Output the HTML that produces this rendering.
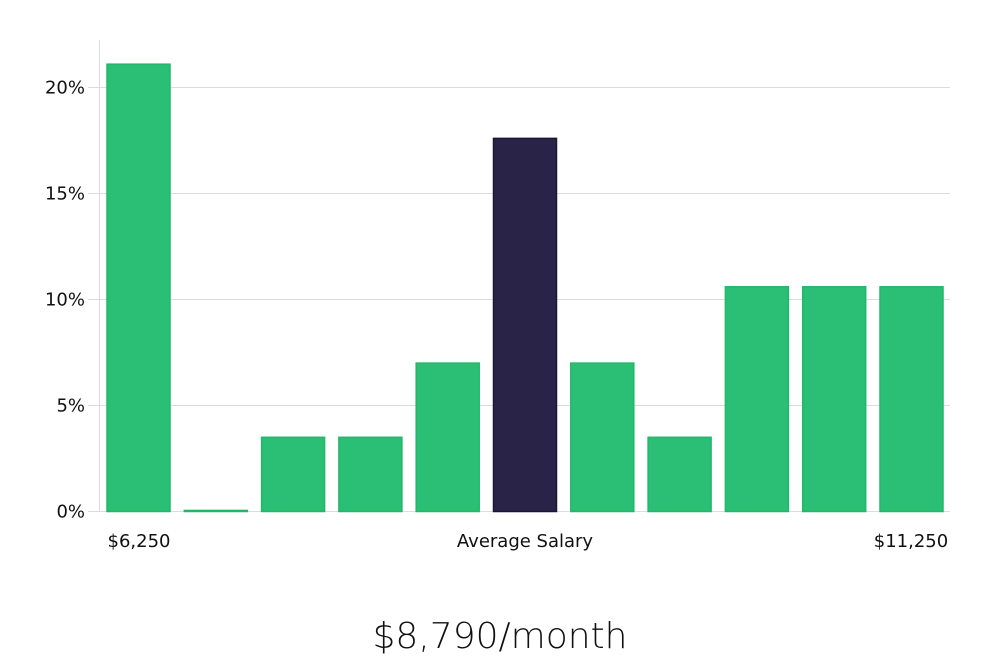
<!DOCTYPE html>
<html><head><meta charset="utf-8"><style>
body{margin:0;background:#fff;width:1000px;height:660px;overflow:hidden}
svg text{font-family:"DejaVu Sans","Liberation Sans",sans-serif}
</style></head><body>
<svg id="chart" width="1000" height="660" xmlns="http://www.w3.org/2000/svg">
<g id="grid"></g>
<line x1="99.5" y1="40" x2="99.5" y2="512" stroke="#dcdcdc"/>
<g id="bars"></g>
<g id="yt"></g>
<text x="139" y="547" font-size="18" text-anchor="middle" fill="#111">$6,250</text>
<text x="525" y="547" font-size="18" text-anchor="middle" fill="#111">Average Salary</text>
<text x="911" y="547" font-size="18" text-anchor="middle" fill="#111">$11,250</text>
<text x="500" y="648" font-size="36" text-anchor="middle" fill="#111" style="font-weight:300">$8,790/month</text>
</svg>
<script>
const categories=["b1","b2","b3","b4","b5","b6","b7","b8","b9","b10","b11"];
const values=[21.1,0.05,3.5,3.5,7.0,17.6,7.0,3.5,10.6,10.6,10.6];
const highlight=[false,false,false,false,false,true,false,false,false,false,false];
const yTicks=[0,5,10,15,20];
const yTickLabels=["0%","5%","10%","15%","20%"];
const NS="http://www.w3.org/2000/svg";
const y0=511.5,pxPer=21.2;
function y(v){return y0-v*pxPer;}
const x0=107,step=77.3,bw=63;
function x(i){return x0+i*step;}
const grid=document.getElementById('grid'),yt=document.getElementById('yt'),bars=document.getElementById('bars');
yTicks.forEach((t,i)=>{
 const l=document.createElementNS(NS,'line');
 
 
 l.setAttribute('x1',88);l.setAttribute('x2',950);
 l.setAttribute('y1',y(t));l.setAttribute('y2',y(t));
 l.setAttribute('stroke','#dcdcdc');
 grid.appendChild(l);
 const tx=document.createElementNS(NS,'text');
 
 
 tx.setAttribute('x',85);tx.setAttribute('y',y(t)+6);
 tx.setAttribute('text-anchor','end');tx.setAttribute('font-size','18');tx.setAttribute('fill','#111');
 tx.textContent=yTickLabels[i];
 yt.appendChild(tx);
});
values.forEach((v,i)=>{
 const r=document.createElementNS(NS,'rect');
 
 
 const h=Math.max(v*pxPer,1);
 r.setAttribute('x',x(i));r.setAttribute('y',y0-h);
 r.setAttribute('width',bw);r.setAttribute('height',h);
 r.setAttribute('fill',highlight[i]?'#292447':'#2abf74');
 r.setAttribute('stroke',highlight[i]?'#1a1636':'#22b86a');
 r.setAttribute('stroke-width','1.5');
 bars.appendChild(r);
});
</script>
</body></html>
